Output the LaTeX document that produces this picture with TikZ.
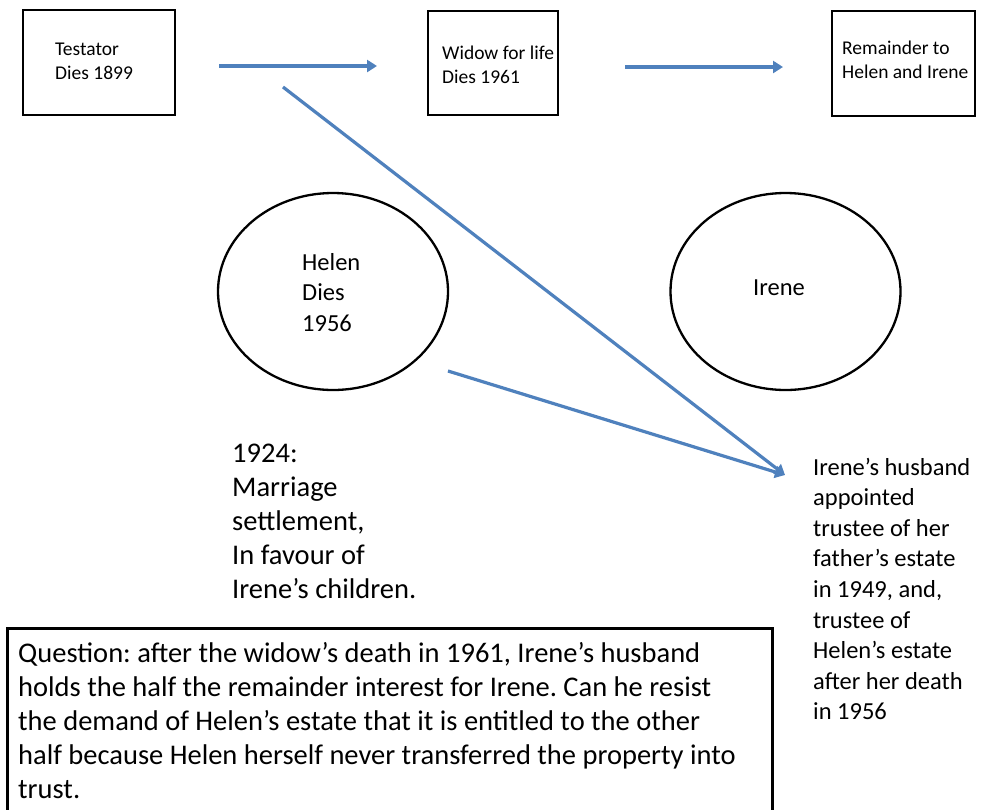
\documentclass[tikz,border=0pt]{standalone}
\usepackage{fontspec}
\setmainfont{Carlito}
\usetikzlibrary{arrows.meta,shapes.geometric}
\definecolor{arrowblue}{HTML}{4F81BD}
\newcommand{\txtblock}[2][400pt]{\parbox[t]{#1}{\raggedright #2}}
\newcommand{\bigfont}{\fontsize{28.5}{34.2}\selectfont}
\newcommand{\midfont}{\fontsize{24.5}{30.6}\selectfont}
\newcommand{\boxfont}{\fontsize{19.5}{24}\selectfont}
\frenchspacing
\begin{document}
\begin{tikzpicture}[x=1pt,y=-1pt,
  boxnode/.style={draw,line width=2.7pt,inner sep=0pt},
  ovalnode/.style={draw,ellipse,line width=2.3pt,inner sep=0pt,minimum width=230pt,minimum height=197pt},
  txt/.style={inner sep=0pt,anchor=base west},
  connector/.style={draw=arrowblue,line width=3.2pt,-{Triangle[length=10pt,width=12pt]}}]
\clip (0,0) rectangle (1008,809);
\fill[white] (0,0) rectangle (1008,809);
% boxes
\node[boxnode,minimum width=152pt,minimum height=105pt] (testator) at (99,62.5) {};
\node[txt,font=\boxfont] (testatortext) at (55,55) {\txtblock{Testator\\Dies 1899}};
\node[boxnode,minimum width=130pt,minimum height=104pt] (widow) at (493,63) {};
\node[txt,font=\boxfont] (widowtext) at (442,59) {\txtblock{Widow for life\\Dies 1961}};
\node[boxnode,minimum width=143pt,minimum height=105pt] (remainder) at (903.5,63.5) {};
\node[txt,font=\boxfont] (remaindertext) at (842,54) {\txtblock{Remainder to\\Helen and Irene}};
% ellipses
\node[ovalnode] (helen) at (333,291.5) {};
\node[txt,font=\midfont] (helentext) at (302,270) {\txtblock{Helen\\Dies\\1956}};
\node[ovalnode] (irene) at (785.5,291.5) {};
\node[txt,font=\midfont] (irenetext) at (753,295) {Irene};
% free texts
\node[txt,font=\bigfont] (settlement) at (232,462) {\txtblock{1924:\\Marriage\\settlement,\\In favour of\\Irene’s children.}};
\node[txt,font=\midfont] (husband) at (813,475) {\txtblock[180pt]{Irene’s husband\\appointed\\trustee of her\\father’s estate\\in 1949, and,\\trustee of\\Helen’s estate\\after her death\\in 1956}};
% question box
\node[boxnode,anchor=north west,minimum width=765pt,minimum height=220pt] (qbox) at (6,627) {};
\node[txt,font=\bigfont] (question) at (18,662) {\txtblock[800pt]{Question: after the widow’s death in 1961, Irene’s husband\\holds the half the remainder interest for Irene. Can he resist\\the demand of Helen’s estate that it is entitled to the other\\half because Helen herself never transferred the property into\\trust.}};
% connectors
\coordinate (a1s) at (219,66);
\coordinate (a1e) at (377,66);
\coordinate (a2s) at (625,67);
\coordinate (a2e) at (783,67);
\coordinate (d1s) at (283,87);
\coordinate (tip) at (785,475);
\coordinate (h1s) at (448,371);
\draw[connector] (a1s) -- (a1e);
\draw[connector] (a2s) -- (a2e);
\draw[connector] (d1s) -- (tip);
\draw[connector] (h1s) -- (tip);
\end{tikzpicture}
\end{document}
